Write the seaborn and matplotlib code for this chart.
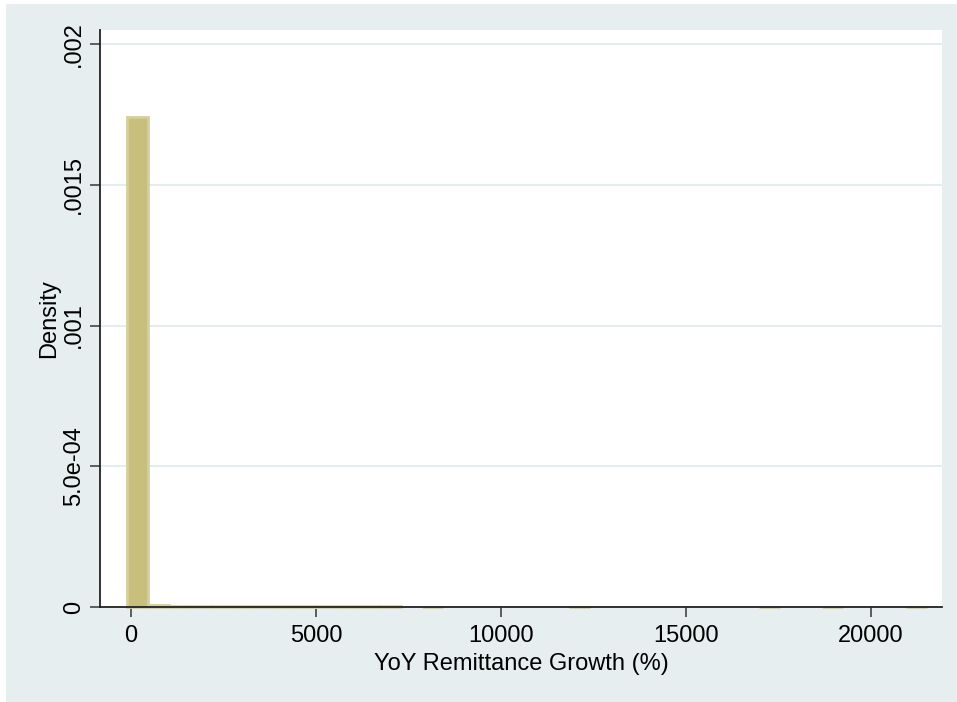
import numpy as np
import pandas as pd
import matplotlib
matplotlib.use("Agg")
import matplotlib.pyplot as plt
import seaborn as sns
from matplotlib.patches import Rectangle

# ---- data ----
bin_start = -108.0
bin_width = 569.0
densities = [
    0.00174, 0.000008, 0.000002, 0.000002, 0.000002, 0.000002, 0.000002,
    0.000002, 0.000002, 0.000002, 0.000002, 0.000002, 0.000002, 0.0,
    0.000001, 0.0, 0.0, 0.0, 0.0, 0.0, 0.0, 0.000001, 0.0, 0.0, 0.0, 0.0,
    0.0, 0.0, 0.0, 0.0, 0.000001, 0.0, 0.0, 0.000001, 0.0, 0.0, 0.0,
    0.000001,
]
x_ticks = [0, 5000, 10000, 15000, 20000]
x_tick_labels = ["0", "5000", "10000", "15000", "20000"]
y_ticks = [0, 0.0005, 0.001, 0.0015, 0.002]
y_tick_labels = ["0", "5.0e-04", ".001", ".0015", ".002"]
x_label = "YoY Remittance Growth (%)"
y_label = "Density"

n_bins = len(densities)
edges = bin_start + bin_width * np.arange(n_bins + 1)
centers = (edges[:-1] + edges[1:]) / 2
df = pd.DataFrame({"growth": centers, "density": densities})

sns.set_style("white")
plt.rcParams["font.family"] = ["Liberation Sans", "DejaVu Sans"]
plt.rcParams["text.color"] = "black"
plt.rcParams["axes.labelcolor"] = "black"
plt.rcParams["xtick.labelcolor"] = "black"
plt.rcParams["ytick.labelcolor"] = "black"

BG = "#e7eef0"
fig = plt.figure(figsize=(9.57, 7.02), dpi=100, facecolor="white")
fig.patches.append(Rectangle((6 / 957, 0), 1 - 6 / 957, 1 - 4 / 702,
                             transform=fig.transFigure, facecolor=BG,
                             edgecolor="none", zorder=-10))
ax = fig.add_axes([100 / 957, 95 / 702, 842 / 957, 577 / 702])
ax.set_facecolor("white")

sns.histplot(data=df, x="growth", weights="density", binwidth=bin_width,
             binrange=(float(edges[0]), float(edges[-1])), stat="count",
             color="#c8bf7c", edgecolor="#d4cf9c", linewidth=2.0, alpha=1,
             ax=ax)
for p in ax.patches:
    p.set_clip_on(False)
    if p.get_height() <= 0:
        p.set_visible(False)

ax.set_xlim(-838, 21919)
ax.set_ylim(0, 0.00205)
ax.set_yticks(y_ticks)
ax.set_yticklabels(y_tick_labels, rotation=90, va="center")
ax.set_xticks(x_ticks)
ax.set_xticklabels(x_tick_labels)
ax.tick_params(axis="both", which="major", labelsize=17, length=7, width=1.2,
               color="#444444", labelcolor="black", direction="out",
               left=True, bottom=True)
ax.tick_params(axis="y", pad=4)
ax.tick_params(axis="x", pad=6)
ax.yaxis.grid(True, color="#e3ecee", linewidth=1.4)
ax.xaxis.grid(False)
ax.set_axisbelow(True)
for s in ["top", "right"]:
    ax.spines[s].set_visible(False)
for s in ["left", "bottom"]:
    ax.spines[s].set_color("#222222")
    ax.spines[s].set_linewidth(1.3)
    ax.spines[s].set_zorder(5)
ax.set_xlabel(x_label, fontsize=17, labelpad=4, color="black")
ax.set_ylabel(y_label, fontsize=17, labelpad=2, color="black")

fig.savefig("out.png", dpi=100, facecolor=fig.get_facecolor())
